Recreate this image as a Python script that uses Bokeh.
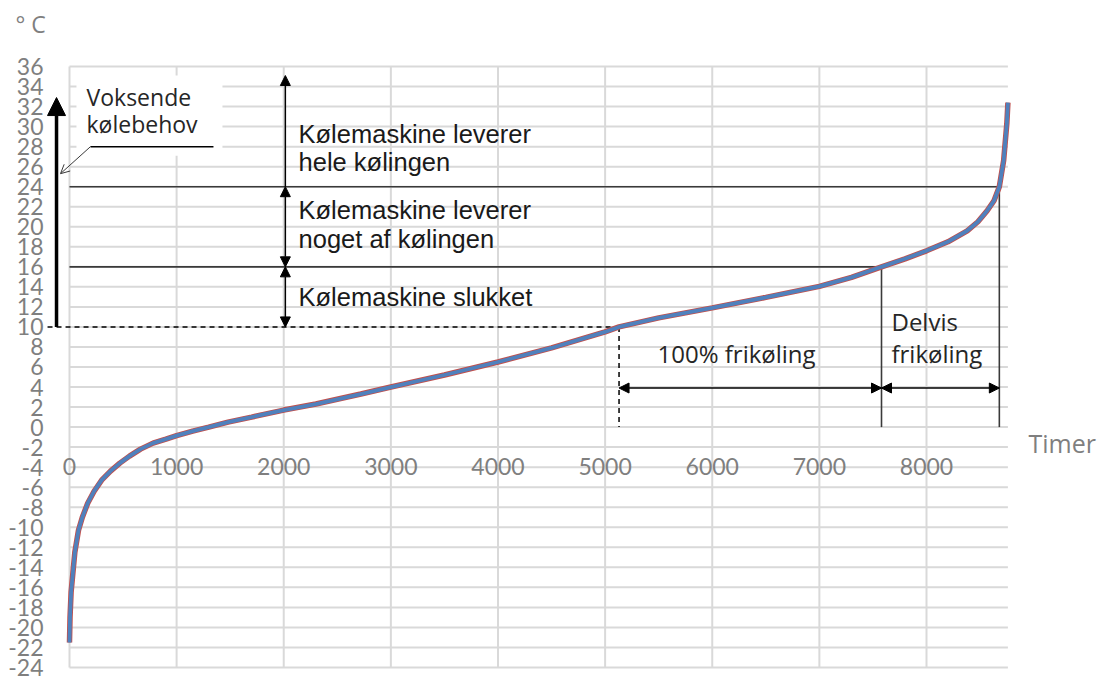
from bokeh.plotting import figure
from bokeh.models import Range1d, FixedTicker, Label, Arrow, NormalHead, OpenHead
from bokeh.embed import file_html
from bokeh.resources import INLINE

# ---- data ----
hours = [0, 5, 15, 28, 50, 84, 120, 170, 230, 300, 383, 470, 560, 663, 780, 900,
         1000, 1150, 1300, 1480, 1700, 2000, 2300, 2530, 2720, 3000, 3500, 4000,
         4500, 5000, 5130, 5500, 6000, 6500, 7000, 7300, 7580, 7800, 8000, 8200,
         8380, 8480, 8566, 8630, 8680, 8720, 8750, 8760]
temps = [-21.5, -19.0, -16.5, -15.0, -12.5, -10.3, -9.0, -7.6, -6.4, -5.3, -4.4,
         -3.6, -2.9, -2.2, -1.6, -1.2, -0.85, -0.4, 0.0, 0.5, 1.0, 1.7, 2.3, 2.85,
         3.3, 4.0, 5.2, 6.5, 7.9, 9.5, 10.0, 10.9, 11.9, 12.95, 14.05, 14.95, 16.0,
         16.8, 17.6, 18.5, 19.6, 20.5, 21.6, 22.6, 24.0, 26.6, 30.3, 32.4]

x_ticks = [0, 1000, 2000, 3000, 4000, 5000, 6000, 7000, 8000]
x_tick_labels = ["0", "1000", "2000", "3000", "4000", "5000", "6000", "7000", "8000"]
y_ticks = [-24, -22, -20, -18, -16, -14, -12, -10, -8, -6, -4, -2, 0, 2, 4, 6, 8,
           10, 12, 14, 16, 18, 20, 22, 24, 26, 28, 30, 32, 34, 36]
y_tick_labels = [str(v) for v in y_ticks]

# thresholds (temperature) and the hours at which the curve reaches them
t_off, t_part, t_full = 10, 16, 24
h_off, h_part, h_full = 5130, 7580, 8680

GRAY = "#7f7f7f"
GRID = "#d9d9d9"
DARK = "#3a3a3a"

# the frame fills the whole canvas; axes sit inside it at fixed locations
p = figure(width=1102, height=680,
           x_range=Range1d(-644, 9643), y_range=Range1d(-25.3, 42.59),
           output_backend="svg", toolbar_location=None,
           min_border=0, outline_line_color=None)

for ax in (p.xaxis[0], p.yaxis[0]):
    ax.axis_line_color = None
    ax.major_tick_line_color = None
    ax.minor_tick_line_color = None
    ax.major_tick_out = 0
    ax.major_tick_in = 0
    ax.major_label_text_font = "Lato"
    ax.major_label_text_font_size = "23px"
    ax.major_label_text_color = GRAY

p.yaxis.ticker = FixedTicker(ticks=y_ticks)
p.yaxis.major_label_overrides = dict(zip(y_ticks, y_tick_labels))
p.yaxis.fixed_location = -224
p.yaxis.major_label_standoff = 2

p.xaxis.ticker = FixedTicker(ticks=x_ticks)
p.xaxis.major_label_overrides = dict(zip(x_ticks, x_tick_labels))
p.xaxis.fixed_location = 0
p.xaxis.major_label_standoff = 31

# grid (drawn only over the chart area)
p.xgrid.visible = False
p.ygrid.visible = False
p.segment(x0=hours[0], x1=hours[-1], y0=y_ticks, y1=y_ticks,
          line_color=GRID, line_width=2)
p.segment(x0=x_ticks, x1=x_ticks, y0=y_ticks[0], y1=y_ticks[-1],
          line_color=GRID, line_width=2)

# white text box behind "Voksende kølebehov"
p.quad(left=65, right=1428, bottom=27.1, top=35.1,
       fill_color="white", line_color=None)

# threshold lines
p.segment(x0=[0, 0], x1=[h_full, h_part], y0=[t_full, t_part], y1=[t_full, t_part],
          line_color=DARK, line_width=1.6)
p.segment(x0=[h_full, h_part], x1=[h_full, h_part], y0=[t_full, t_part], y1=[0, 0],
          line_color=DARK, line_width=1.6)
p.segment(x0=[-205], x1=[h_off], y0=[t_off], y1=[t_off],
          line_color="black", line_width=1.5, line_dash="5 4")
p.segment(x0=[h_off], x1=[h_off], y0=[t_off], y1=[0],
          line_color="black", line_width=1.5, line_dash="5 4")

# callout line
p.segment(x0=[196], x1=[1344], y0=[28.0], y1=[28.0], line_color="black", line_width=1.5)

# curve
p.line(hours, temps, line_color="#c0504d", line_width=5.5)
p.line(hours, temps, line_color="#4f81bd", line_width=3.8)

def head(sz):
    return NormalHead(size=sz, fill_color="black", line_color="black", line_width=1)

# thick arrow "Voksende kølebehov"
p.add_layout(Arrow(x_start=-121, y_start=t_off, x_end=-121, y_end=32.9,
                   end=NormalHead(size=18, fill_color="black", line_color="black"),
                   line_color="black", line_width=3.5))
# thin callout arrow
p.add_layout(Arrow(x_start=196, y_start=28.0, x_end=-84, y_end=25.3,
                   end=OpenHead(size=9, line_color=DARK, line_width=1),
                   line_color=DARK, line_width=1))

# vertical double arrows at 2000 h
xa = 2015
p.add_layout(Arrow(x_start=xa, y_start=t_off, x_end=xa, y_end=t_part,
                   start=head(10), end=head(10), line_color="black", line_width=1.5))
p.add_layout(Arrow(x_start=xa, y_start=t_part, x_end=xa, y_end=t_full,
                   start=head(10), end=head(10), line_color="black", line_width=1.5))
p.add_layout(Arrow(x_start=xa, y_start=t_full, x_end=xa, y_end=35.1,
                   end=head(10), line_color="black", line_width=1.5))

# horizontal double arrows
ya = 3.9
p.add_layout(Arrow(x_start=h_off, y_start=ya, x_end=h_part, y_end=ya,
                   start=head(10), end=head(10), line_color="black", line_width=1.5))
p.add_layout(Arrow(x_start=h_part, y_start=ya, x_end=h_full, y_end=ya,
                   start=head(10), end=head(10), line_color="black", line_width=1.5))

DY = 0.9  # compensates the label baseline placement

def lab(x, y, text, font, size, color="#1a1a1a"):
    p.add_layout(Label(x=x, y=y + DY, text=text, text_font=font,
                       text_font_size=size, text_color=color,
                       text_baseline="alphabetic", text_align="left"))

lab(-504, 39.3, "° C", "Open Sans", "23px", GRAY)

lab(159, 32.1, "Voksende", "Open Sans", "23px", "#262626")
lab(159, 29.4, "kølebehov", "Open Sans", "23px", "#262626")

kx = 2138
ksize = "25.5px"
lab(kx, 28.4, "Kølemaskine leverer", "Liberation Sans", ksize)
lab(kx, 25.6, "hele kølingen", "Liberation Sans", ksize)
lab(kx, 20.8, "Kølemaskine leverer", "Liberation Sans", ksize)
lab(kx, 17.9, "noget af kølingen", "Liberation Sans", ksize)
lab(kx, 12.1, "Kølemaskine slukket", "Liberation Sans", ksize)

lab(5489, 6.45, "100% frikøling", "Open Sans", "24px", "#262626")
lab(7673, 9.65, "Delvis", "Open Sans", "24px", "#262626")
lab(7673, 6.45, "frikøling", "Open Sans", "24px", "#262626")

lab(8952, -2.5, "Timer", "Open Sans", "25px", GRAY)

open("out.html", "w").write(file_html(p, INLINE))
